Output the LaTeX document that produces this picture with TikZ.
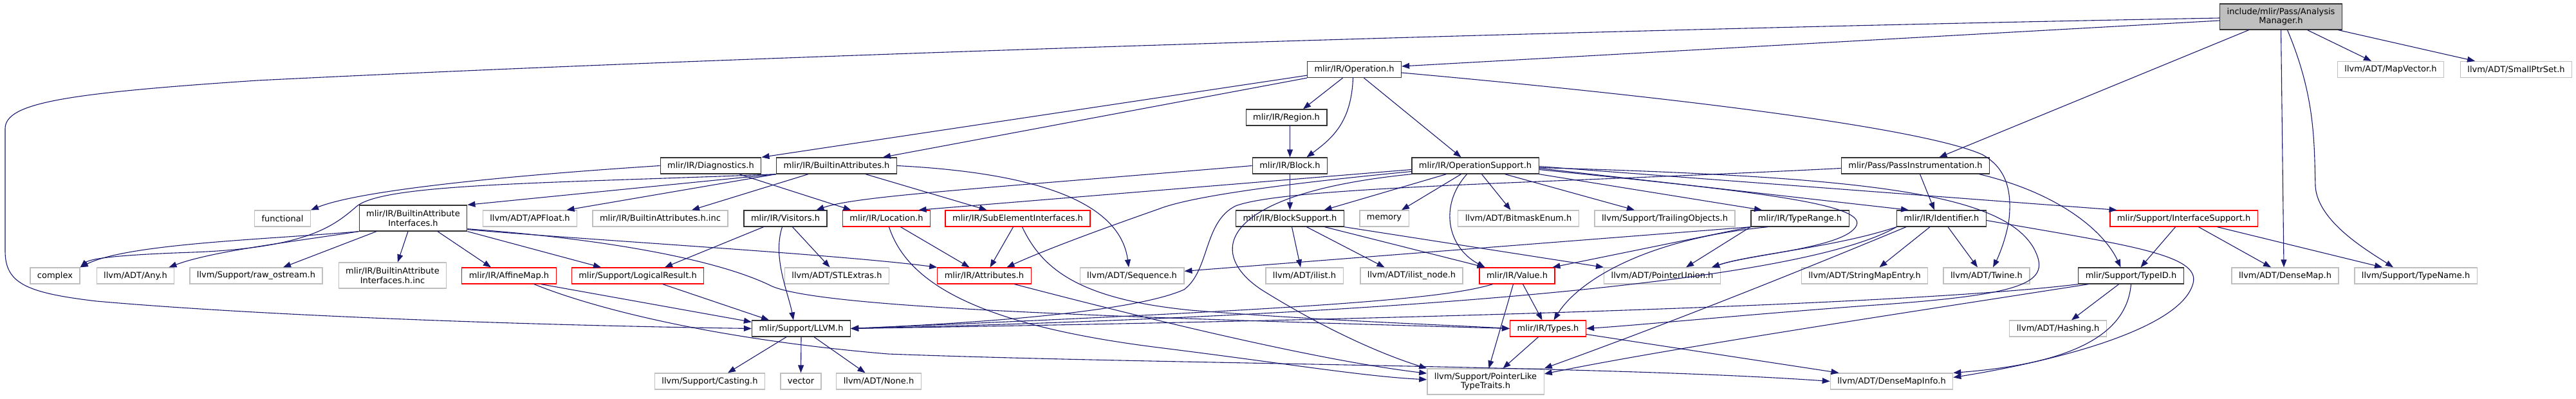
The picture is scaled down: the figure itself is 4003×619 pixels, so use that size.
\documentclass[tikz,border=0pt]{standalone}
\usepackage{fontspec}
\setmainfont{DejaVu Sans}
\usetikzlibrary{arrows.meta}
\definecolor{edgeblue}{HTML}{191970}
\definecolor{greyline}{HTML}{BFBFBF}

\begin{document}
\begin{tikzpicture}[x=1pt,y=-1pt,
    hdr/.style={draw=black!80,line width=1.3pt,fill=white,font=\fontsize{13}{14.5}\selectfont,inner xsep=11pt,inner ysep=3pt,minimum height=25pt,align=center},
    ext/.style={hdr,draw=greyline},
    trunc/.style={hdr,draw=red},
    twoline/.style={minimum height=40pt},
    dep/.style={draw=edgeblue,line width=1.1pt,-{Triangle[length=12pt,width=9pt]}},
    deps/.style={every edge/.style=dep}]
    \useasboundingbox (0,0) rectangle (4003,619);

    % top
    \node[hdr,twoline,fill=greyline] (am) at (3544.5,26) {include/mlir/Pass/Analysis\\Manager.h};
    \node[hdr] (op) at (2104.5,108) {mlir/IR/Operation.h};
    \node[ext] (mapvec) at (3715,108) {llvm/ADT/MapVector.h};
    \node[ext] (smallptr) at (3910,108) {llvm/ADT/SmallPtrSet.h};
    \node[hdr] (region) at (1999,182.5) {mlir/IR/Region.h};
    \node[hdr] (diag) at (1104.5,257.5) {mlir/IR/Diagnostics.h};
    \node[hdr] (battr) at (1300,257.5) {mlir/IR/BuiltinAttributes.h};
    \node[hdr] (block) at (2004.5,257.5) {mlir/IR/Block.h};
    \node[hdr] (opsup) at (2292.5,257.5) {mlir/IR/OperationSupport.h};
    \node[hdr] (passinst) at (2976.5,257.5) {mlir/Pass/PassInstrumentation.h};

    % middle row
    \node[ext] (functional) at (439,339.5) {functional};
    \node[hdr,twoline] (bai) at (642,339) {mlir/IR/BuiltinAttribute\\Interfaces.h};
    \node[ext] (apfloat) at (823.5,339.5) {llvm/ADT/APFloat.h};
    \node[ext] (bainc) at (1026,339.5) {mlir/IR/BuiltinAttributes.h.inc};
    \node[hdr] (visitors) at (1220.5,339.5) {mlir/IR/Visitors.h};
    \node[trunc] (location) at (1377.5,339.5) {mlir/IR/Location.h};
    \node[trunc] (subelem) at (1581.5,339.5) {mlir/IR/SubElementInterfaces.h};
    \node[hdr] (blocksup) at (2004.5,339.5) {mlir/IR/BlockSupport.h};
    \node[ext] (memory) at (2151,339.5) {memory};
    \node[ext] (bitmask) at (2359.5,339.5) {llvm/ADT/BitmaskEnum.h};
    \node[ext] (trailing) at (2587,339.5) {llvm/Support/TrailingObjects.h};
    \node[hdr] (typerange) at (2797,339.5) {mlir/IR/TypeRange.h};
    \node[hdr] (ident) at (3017,339.5) {mlir/IR/Identifier.h};
    \node[trunc] (ifacesup) at (3393.5,339.5) {mlir/Support/InterfaceSupport.h};

    \node[ext] (complex) at (85.5,428.5) {complex};
    \node[ext] (any) at (210.5,428.5) {llvm/ADT/Any.h};
    \node[ext] (rawos) at (398,428.5) {llvm/Support/raw\_ostream.h};
    \node[ext,twoline] (baiinc) at (610,428) {mlir/IR/BuiltinAttribute\\Interfaces.h.inc};
    \node[trunc] (affine) at (791,428.5) {mlir/IR/AffineMap.h};
    \node[trunc] (logres) at (991,428.5) {mlir/Support/LogicalResult.h};
    \node[ext] (stl) at (1300.5,428.5) {llvm/ADT/STLExtras.h};
    \node[trunc] (attrs) at (1529.5,428.5) {mlir/IR/Attributes.h};
    \node[ext] (sequence) at (1759,428.5) {llvm/ADT/Sequence.h};
    \node[ext] (ilist) at (2027,428.5) {llvm/ADT/ilist.h};
    \node[ext] (ilistnode) at (2193.5,428.5) {llvm/ADT/ilist\_node.h};
    \node[trunc] (value) at (2357.5,428.5) {mlir/IR/Value.h};
    \node[ext] (ptrunion) at (2583,428.5) {llvm/ADT/PointerUnion.h};
    \node[ext] (strmap) at (2897.5,428.5) {llvm/ADT/StringMapEntry.h};
    \node[ext] (twine) at (3087,428.5) {llvm/ADT/Twine.h};
    \node[hdr] (typeid) at (3311.5,428.5) {mlir/Support/TypeID.h};
    \node[ext] (densemap) at (3551,428.5) {llvm/ADT/DenseMap.h};
    \node[ext] (typename) at (3754,428.5) {llvm/Support/TypeName.h};

    % bottom
    \node[hdr] (llvm) at (1245,510.5) {mlir/Support/LLVM.h};
    \node[trunc] (types) at (2405.5,510.5) {mlir/IR/Types.h};
    \node[ext] (hashing) at (3198,510.5) {llvm/ADT/Hashing.h};
    \node[ext] (casting) at (1103,592.5) {llvm/Support/Casting.h};
    \node[ext] (vector) at (1244.5,592.5) {vector};
    \node[ext] (none) at (1365.5,592.5) {llvm/ADT/None.h};
    \node[ext,twoline] (pltt) at (2308.5,593) {llvm/Support/PointerLike\\TypeTraits.h};
    \node[ext] (dminfo) at (2939.5,592.5) {llvm/ADT/DenseMapInfo.h};

    % AnalysisManager.h
    \draw[dep] ([yshift=-6pt]am.west) -- ([yshift=5pt]op.east);
    \draw[dep] ([yshift=-2pt]am.west) .. controls (2500,45) and (1200,85) .. (400,125) .. controls (100,145) and (8,160) .. (8,200) -- (8,390) .. controls (8,440) and (40,455) .. (150,468) .. controls (400,490) and (800,505) .. (llvm.west);
    \path[deps] ([xshift=-50pt]am.south) edge ([xshift=37pt]passinst.north)
        (am.south) edge ([xshift=-2pt]densemap.north)
        ([xshift=41pt]am.south) edge ([xshift=-30pt]mapvec.north)
        ([xshift=89pt]am.south) edge ([xshift=-64pt]smallptr.north);
    \draw[dep] ([xshift=10pt]am.south) .. controls (3598,150) and (3596,220) .. (3598,290) .. controls (3602,345) and (3680,390) .. ([xshift=-35pt]typename.north);

    % Operation.h
    \path[deps] ([yshift=4pt]op.south west) edge (diag.north east)
        (op.south west) edge ([xshift=72pt]battr.north)
        ([xshift=-18pt]op.south) edge ([xshift=26pt]region.north)
        ([xshift=15pt]op.south) edge ([xshift=-22pt]opsup.north);
    \draw[dep] ([xshift=-2pt]op.south) .. controls (2100,190) and (2070,215) .. ([xshift=26pt]block.north);
    \draw[dep] ([yshift=-5pt]op.east) .. controls (2700,160) and (3000,205) .. (3080,240) .. controls (3120,262) and (3126,300) .. (3122,340) .. controls (3118,370) and (3105,400) .. ([xshift=10pt]twine.north);

    % Region.h, Block.h
    \path[deps] (region.south -| block.north) edge (block.north)
        (block.south) edge (blocksup.north);
    \draw[dep] (block.west) .. controls (1500,295) and (1330,305) .. ([xshift=48pt]visitors.north);

    % Diagnostics.h
    \draw[dep] (diag.west) .. controls (800,272) and (560,295) .. (functional.north east);
    \path[deps] ([xshift=44pt]diag.south) edge ([xshift=-55pt]location.north);

    % BuiltinAttributes.h
    \path[deps] (battr.south west) edge (bai.north east)
        (battr.south west) edge ([xshift=57pt]apfloat.north)
        ([xshift=-44pt]battr.south) edge ([xshift=49pt]bainc.north)
        ([xshift=45pt]battr.south) edge ([xshift=-48pt]subelem.north);
    \draw[dep] (battr.east) .. controls (1600,268) and (1740,310) .. ([xshift=-5pt]sequence.north);
    \draw[dep] (battr.south west) .. controls (850,285) and (600,285) .. (555,320) .. controls (520,350) and (480,385) .. (300,392) .. controls (180,396) and (140,402) .. (complex.north east);

    % BuiltinAttributeInterfaces.h
    \draw[dep] (bai.south west) .. controls (420,372) and (200,378) .. (complex.north east);
    \draw[dep] (bai.south west) .. controls (460,375) and (330,390) .. ([xshift=52pt]any.north);
    \path[deps] ([xshift=-57pt]bai.south) edge ([xshift=42pt]rawos.north)
        ([xshift=-8pt]bai.south) edge ([xshift=8pt]baiinc.north)
        ([xshift=38pt]bai.south) edge ([xshift=-28pt]affine.north)
        (bai.south east) edge ([xshift=-57pt]logres.north);
    \draw[dep] ([yshift=3pt]bai.south east) .. controls (900,372) and (1300,395) .. (attrs.north west);
    \draw[dep] ([yshift=4pt]bai.south east) .. controls (950,372) and (1120,405) .. (1200,445) .. controls (1280,478) and (1700,492) .. (types.west);

    % Visitors.h
    \path[deps] ([xshift=-34pt]visitors.south) edge ([xshift=42pt]logres.north)
        ([xshift=11pt]visitors.south) edge ([xshift=-11pt]stl.north);
    \draw[dep] ([xshift=-5pt]visitors.south) .. controls (1200,400) and (1225,455) .. ([xshift=-12pt]llvm.north);

    % Location.h, SubElementInterfaces.h
    \path[deps] ([xshift=22pt]location.south) edge ([xshift=-23pt]attrs.north);
    \draw[dep] ([xshift=4pt]location.south) .. controls (1410,440) and (1520,505) .. (1800,540) .. controls (2000,565) and (2120,585) .. (pltt.178);
    \path[deps] ([xshift=-7pt]subelem.south) edge ([xshift=9pt]attrs.north);
    \draw[dep] ([xshift=7pt]subelem.south) .. controls (1620,420) and (1680,465) .. (1850,482) .. controls (2050,498) and (2250,505) .. (types.west);

    % AffineMap.h, LogicalResult.h, Attributes.h
    \path[deps] ([xshift=50pt]affine.south) edge ([yshift=-3pt]llvm.north west);
    \draw[dep] ([xshift=39pt]affine.south) .. controls (930,482) and (1120,528) .. (1380,550) .. controls (1800,566) and (2500,568) .. (dminfo.west);
    \path[deps] ([xshift=39pt]logres.south) edge ([xshift=-50pt]llvm.north);
    \draw[dep] ([xshift=47pt]attrs.south) .. controls (1800,500) and (2050,560) .. (pltt.172);

    % LLVM.h
    \path[deps] ([xshift=-23pt]llvm.south) edge ([xshift=28pt]casting.north)
        (llvm.south) edge (vector.north)
        ([xshift=20pt]llvm.south) edge ([xshift=-21pt]none.north);

    % OperationSupport.h
    \path[deps] ([xshift=-45pt]opsup.south) edge ([xshift=53pt]blocksup.north)
        ([xshift=-22pt]opsup.south) edge ([xshift=27pt]memory.north)
        ([xshift=10pt]opsup.south) edge ([xshift=-12pt]bitmask.north)
        ([xshift=46pt]opsup.south) edge ([xshift=-47pt]trailing.north)
        (opsup.south east) edge ([xshift=-59pt]typerange.north)
        ([yshift=-4pt]opsup.east) edge ([xshift=-51pt]ident.north)
        ([yshift=-1pt]opsup.east) edge ([xshift=-104pt]ifacesup.north);
    \draw[dep] ([xshift=-13pt]opsup.south) .. controls (2235,320) and (2250,385) .. ([xshift=-50pt]value.north);
    \draw[dep] ([yshift=-6pt]opsup.east) .. controls (2700,295) and (2900,315) .. (2885,350) .. controls (2870,385) and (2720,395) .. ([xshift=77pt]ptrunion.north);
    \draw[dep] ([yshift=-3pt]opsup.east) .. controls (2900,275) and (3110,300) .. (3160,385) .. controls (3190,440) and (3150,458) .. (2900,475) .. controls (2700,490) and (2550,505) .. (types.east);
    \draw[dep] ([yshift=-6pt]opsup.west) -- ([xshift=50pt]location.north);
    \draw[dep] ([yshift=-9pt]opsup.west) .. controls (2000,285) and (1850,305) .. (1800,325) .. controls (1700,360) and (1620,390) .. ([xshift=35pt]attrs.north);
    \draw[dep] (opsup.south west) .. controls (1900,300) and (1870,390) .. (1960,450) .. controls (2040,500) and (2130,545) .. (pltt.north west);

    % PassInstrumentation.h
    \draw[dep] ([yshift=-4pt]passinst.west) .. controls (2400,285) and (2000,290) .. (1920,320) .. controls (1870,345) and (1880,420) .. (1840,450) .. controls (1750,490) and (1450,505) .. (llvm.east);
    \path[deps] ([xshift=7pt]passinst.south) edge ([xshift=-11pt]ident.north);
    \draw[dep] ([xshift=99pt]passinst.south) .. controls (3200,300) and (3270,360) .. ([xshift=-16pt]typeid.north);

    % TypeRange.h
    \path[deps] (typerange.south west) edge (sequence.5)
        (typerange.south west) edge ([xshift=37pt]ptrunion.north)
        (typerange.south west) edge ([xshift=55pt]value.north);
    \draw[dep] ([xshift=-50pt]typerange.south) .. controls (2550,372) and (2450,440) .. ([xshift=9pt]types.north);

    % Identifier.h
    \path[deps] ([xshift=-18pt]ident.south) edge ([xshift=23pt]strmap.north)
        ([xshift=10pt]ident.south) edge ([xshift=-14pt]twine.north);
    \draw[dep] (ident.south west) .. controls (2850,385) and (2720,395) .. ([xshift=77pt]ptrunion.north);
    \draw[dep] (ident.south west) .. controls (2780,450) and (2000,495) .. (llvm.east);
    \draw[dep] ([xshift=15pt]ident.south west) .. controls (2800,420) and (2600,500) .. (pltt.north east);
    \draw[dep] ([yshift=-3pt]ident.east) .. controls (3300,380) and (3420,395) .. (3408,440) .. controls (3390,510) and (3200,560) .. ([yshift=6pt]dminfo.east);

    % InterfaceSupport.h
    \path[deps] ([xshift=-13pt]ifacesup.south) edge ([xshift=15pt]typeid.north)
        ([xshift=23pt]ifacesup.south) edge ([xshift=-22pt]densemap.north)
        ([xshift=52pt]ifacesup.south) edge ([xshift=-52pt]typename.north);

    % TypeID.h
    \path[deps] ([xshift=-19pt]typeid.south) edge ([xshift=21pt]hashing.north);
    \draw[dep] (typeid.south) .. controls (3305,520) and (3220,565) .. (dminfo.north east);
    \draw[dep] (typeid.south west) .. controls (3000,470) and (2300,495) .. (llvm.east);
    \draw[dep] ([xshift=16pt]typeid.south west) .. controls (3000,480) and (2600,540) .. ([yshift=12pt]pltt.east);

    % BlockSupport.h
    \path[deps] ([xshift=3pt]blocksup.south) edge ([xshift=-6pt]ilist.north)
        ([xshift=26pt]blocksup.south) edge ([xshift=-42pt]ilistnode.north)
        ([xshift=54pt]blocksup.south) edge ([xshift=-50pt]value.north)
        (blocksup.south east) edge (ptrunion.north west);

    % Value.h, Types.h
    \draw[dep] ([xshift=-38pt]value.south) .. controls (2250,462) and (2100,478) .. (llvm.east);
    \path[deps] ([xshift=-6pt]value.south) edge ([xshift=5pt]pltt.north)
        ([xshift=9pt]value.south) edge ([xshift=-9pt]types.north);
    \path[deps] ([xshift=-15pt]types.south) edge ([xshift=27pt]pltt.north)
        ([yshift=-9pt]types.east) edge ([xshift=-82pt]dminfo.north);
\end{tikzpicture}
\end{document}
